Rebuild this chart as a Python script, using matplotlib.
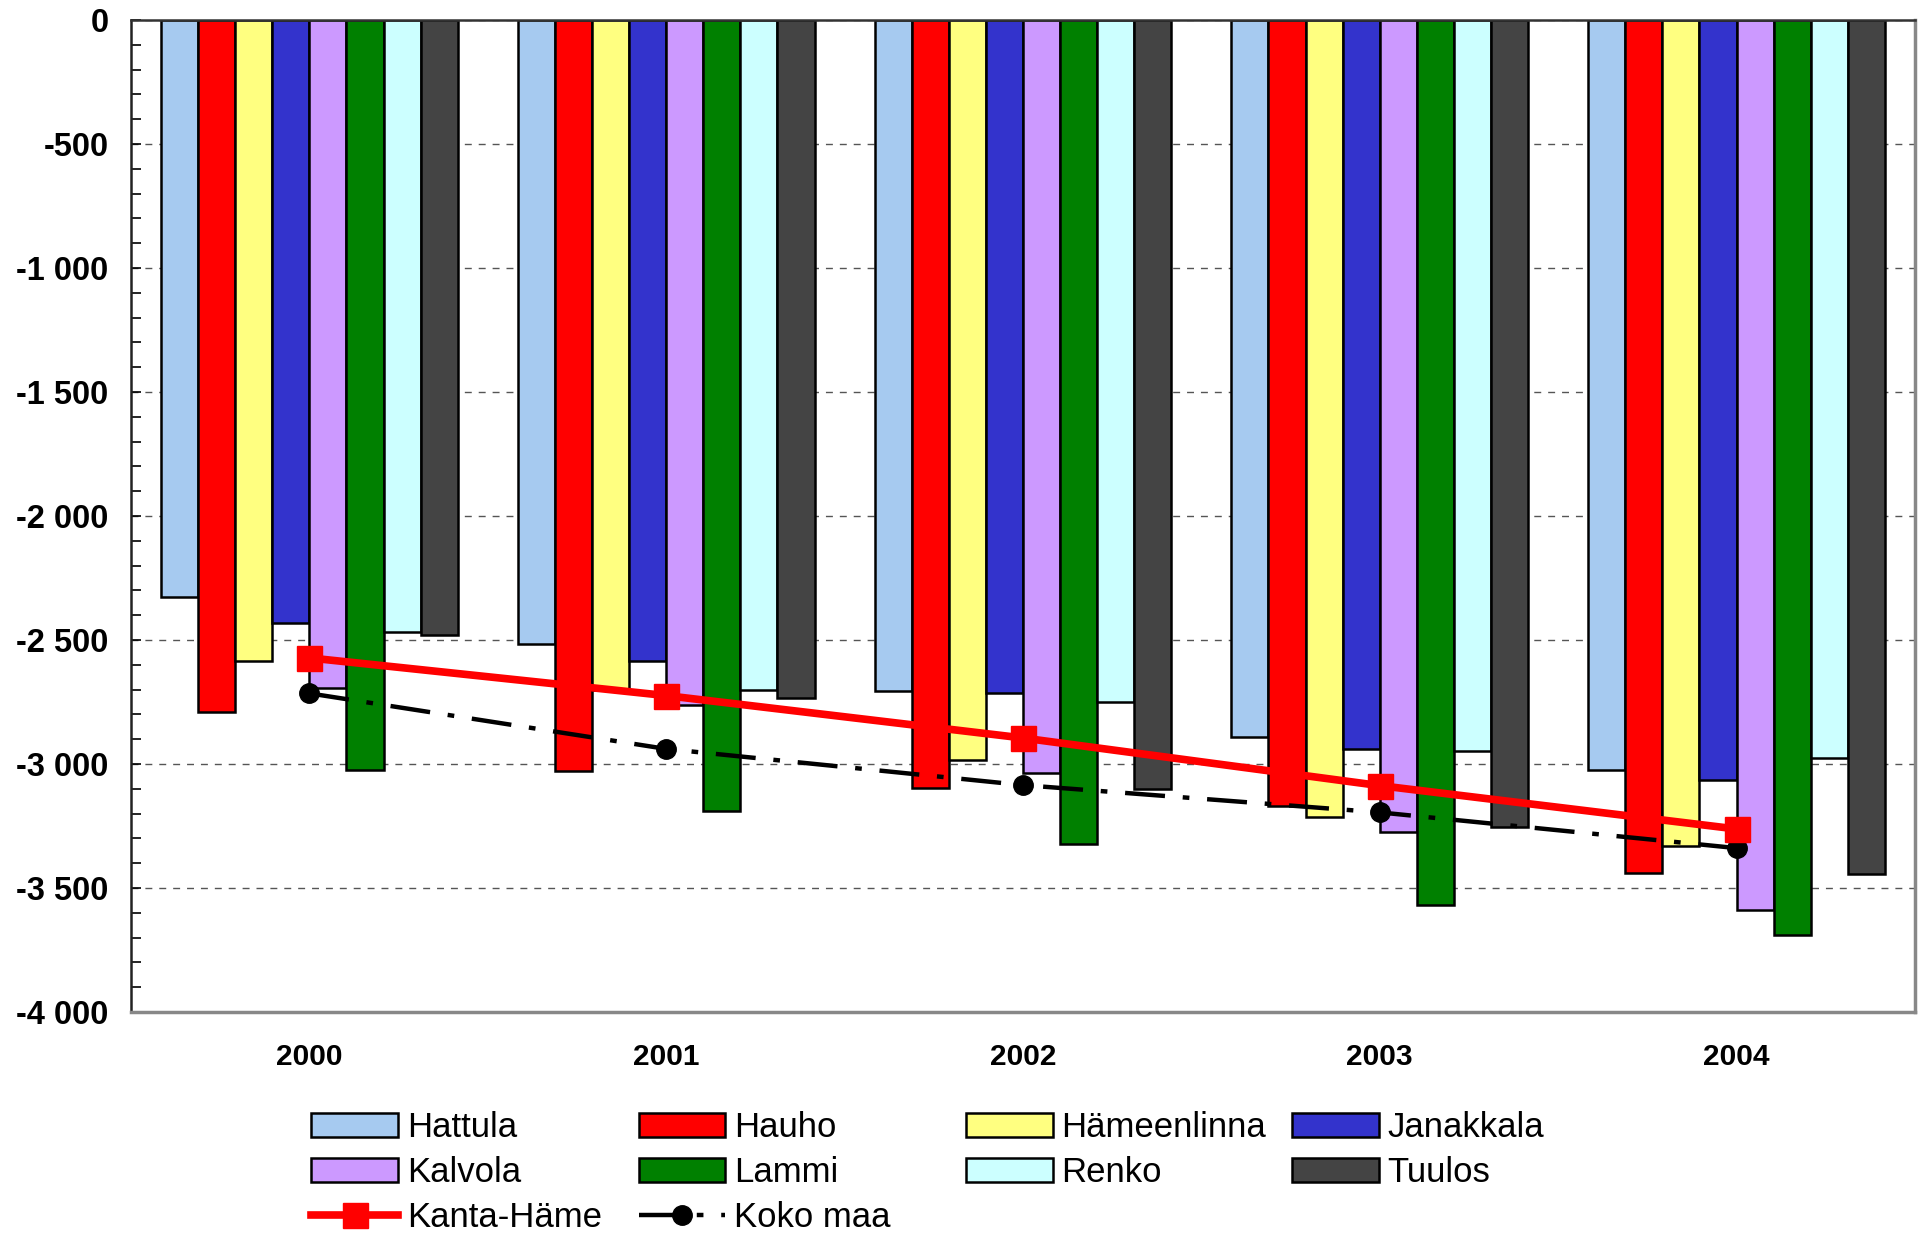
import matplotlib
matplotlib.use("Agg")
import matplotlib.pyplot as plt
import numpy as np
from matplotlib.ticker import MultipleLocator, FuncFormatter
from matplotlib.patches import Patch
from matplotlib.lines import Line2D

years = ["2000", "2001", "2002", "2003", "2004"]

hattula = [-2325, -2515, -2705, -2892, -3025]
hauho = [-2790, -3030, -3095, -3170, -3440]
hameenlinna = [-2585, -2700, -2985, -3212, -3330]
janakkala = [-2430, -2585, -2715, -2940, -3063]
kalvola = [-2694, -2762, -3037, -3273, -3590]
lammi = [-3025, -3188, -3323, -3567, -3690]
renko = [-2468, -2700, -2751, -2949, -2977]
tuulos = [-2478, -2733, -3101, -3255, -3444]

kanta_hame = [-2572, -2724, -2895, -3087, -3262]
koko_maa = [-2715, -2939, -3085, -3195, -3339]

names = ["Hattula", "Hauho", "Hämeenlinna", "Janakkala",
         "Kalvola", "Lammi", "Renko", "Tuulos"]
series = [hattula, hauho, hameenlinna, janakkala, kalvola, lammi, renko, tuulos]
colors = ["#A6CAF0", "#FF0000", "#FFFF80", "#3333CC",
          "#CC99FF", "#008000", "#CCFFFF", "#444444"]

plt.rcParams["font.family"] = ["Liberation Sans", "DejaVu Sans"]

fig = plt.figure(figsize=(19.25, 12.36), dpi=100)
ax = fig.add_axes([0.068, 0.1812, 0.9268, 0.8026])

x = np.arange(len(years))
w = 0.104
for i, (vals, c) in enumerate(zip(series, colors)):
    ax.bar(x + (i - 3.5) * w, vals, w, color=c, edgecolor="black",
           linewidth=1.8, zorder=2)

ax.plot(x, koko_maa, color="black", linewidth=3.2,
        dashes=(9, 4, 1.5, 4), marker="o", markersize=14, zorder=4)
ax.plot(x, kanta_hame, color="#FF0000", linewidth=5.5,
        marker="s", markersize=18, zorder=5)

ax.set_xlim(-0.5, 4.5)
ax.set_ylim(-4000, 0)
ax.set_xticks(x)
ax.set_xticklabels(years, fontsize=21.5, fontweight="bold")
ax.tick_params(axis="x", length=0, pad=22)

ax.yaxis.set_major_locator(MultipleLocator(500))
ax.yaxis.set_minor_locator(MultipleLocator(100))
ax.yaxis.set_major_formatter(FuncFormatter(lambda v, p: f"{int(v):,}".replace(",", " ")))
ax.tick_params(axis="y", which="both", direction="in", length=7, width=1.2,
               labelsize=23.5, pad=16)
for lab in ax.get_yticklabels():
    lab.set_fontweight("bold")

ax.grid(axis="y", which="major", linestyle=(0, (5, 5)), color="#555555",
        linewidth=1, zorder=0)
ax.set_axisbelow(True)

ax.spines["left"].set_color("#222222")
ax.spines["left"].set_linewidth(1.8)
ax.spines["top"].set_color("#333333")
ax.spines["top"].set_linewidth(1.8)
ax.spines["right"].set_color("#888888")
ax.spines["right"].set_linewidth(2.5)
ax.spines["bottom"].set_color("#888888")
ax.spines["bottom"].set_linewidth(2.5)

# legend: four columns placed at equal spacing like the original
handles = [Patch(facecolor=c, edgecolor="black", linewidth=1.8) for c in colors]
handles.append(Line2D([], [], color="#FF0000", linewidth=5.5, marker="s", markersize=18))
handles.append(Line2D([], [], color="black", linewidth=3.2, dashes=(9, 4, 1.5, 4),
                      marker="o", markersize=14))
labels = names + ["Kanta-Häme", "Koko maa"]

columns = [[0, 4, 8], [1, 5, 9], [2, 6], [3, 7]]
col_x = [0.1617, 0.3317, 0.5017, 0.6712]
for cx, idx in zip(col_x, columns):
    fig.legend([handles[i] for i in idx], [labels[i] for i in idx],
               loc="upper left", bbox_to_anchor=(cx, 0.101), frameon=False,
               handlelength=2.5, handleheight=0.68,
               handletextpad=0.25, labelspacing=0.34, borderpad=0,
               borderaxespad=0,
               prop={"family": ["Liberation Sans Narrow", "Liberation Sans"], "size": 25})

fig.savefig("out.png", dpi=100)
